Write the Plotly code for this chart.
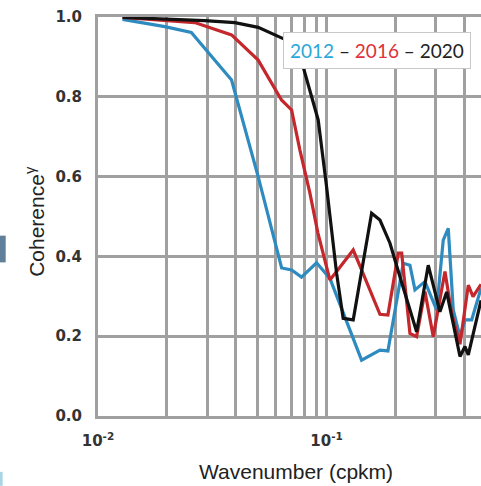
import plotly.graph_objects as go

# Wavenumber (cpkm) and coherence for each year
k_2012 = [0.0128, 0.0196, 0.0256, 0.0384, 0.0502, 0.0636, 0.0703, 0.0777, 0.0904, 0.1034,
          0.1423, 0.1712, 0.1855, 0.2165, 0.2316, 0.2436, 0.2694, 0.3030, 0.3239, 0.3407,
          0.3583, 0.3834, 0.4032, 0.4314, 0.474]
c_2012 = [0.994, 0.976, 0.961, 0.842, 0.600, 0.371, 0.366, 0.348, 0.384, 0.345,
          0.140, 0.165, 0.163, 0.383, 0.378, 0.316, 0.337, 0.266, 0.441, 0.470,
          0.266, 0.199, 0.241, 0.241, 0.320]

k_2016 = [0.0128, 0.0199, 0.0265, 0.0384, 0.0502, 0.0635, 0.0703, 0.0764, 0.0845, 0.0916,
          0.1034, 0.1106, 0.1308, 0.1423, 0.1712, 0.1855, 0.2059, 0.2131, 0.2316, 0.2477,
          0.2694, 0.2929, 0.3296, 0.3526, 0.3834, 0.4169, 0.4371, 0.474]
c_2016 = [0.999, 0.991, 0.986, 0.955, 0.892, 0.792, 0.767, 0.667, 0.559, 0.459,
          0.341, 0.362, 0.416, 0.366, 0.255, 0.253, 0.408, 0.408, 0.207, 0.199,
          0.312, 0.199, 0.362, 0.257, 0.180, 0.328, 0.299, 0.330]

k_2020 = [0.0128, 0.0293, 0.0397, 0.0502, 0.0668, 0.0790, 0.0919, 0.1000, 0.1106, 0.1182,
          0.1308, 0.1574, 0.1712, 0.1894, 0.2094, 0.2477, 0.2785, 0.3133, 0.3352, 0.3834,
          0.4032, 0.4169, 0.474]
c_2020 = [0.999, 0.991, 0.986, 0.974, 0.942, 0.875, 0.742, 0.575, 0.358, 0.245,
          0.241, 0.508, 0.491, 0.433, 0.349, 0.211, 0.378, 0.261, 0.311, 0.149,
          0.174, 0.153, 0.290]

x_grid_vals = [0.01, 0.02, 0.03, 0.04, 0.05, 0.06, 0.07, 0.08, 0.09, 0.1, 0.2, 0.3, 0.4]
x_tick_text = ["<b>10<sup>-2</sup></b>", "", "", "", "", "", "", "", "",
               "<b>10<sup>-1</sup></b>", "", "", ""]
y_tick_vals = [0.0, 0.2, 0.4, 0.6, 0.8, 1.0]
y_tick_text = ["0.0", "0.2", "0.4", "0.6", "0.8", "1.0"]

GRID = "#a0a0a0"

fig = go.Figure()
fig.add_trace(go.Scatter(x=k_2012, y=c_2012, mode="lines",
                         line=dict(color="#2e8bc0", width=3.2), name="2012"))
fig.add_trace(go.Scatter(x=k_2016, y=c_2016, mode="lines",
                         line=dict(color="#c4272c", width=3.2), name="2016"))
fig.add_trace(go.Scatter(x=k_2020, y=c_2020, mode="lines",
                         line=dict(color="#111111", width=3.2), name="2020"))

fig.update_layout(
    width=481, height=486,
    margin=dict(l=98, r=0, t=17, b=70),
    paper_bgcolor="white", plot_bgcolor="white",
    showlegend=False,
    xaxis=dict(type="log", range=[-2, -0.3244],
               tickvals=x_grid_vals, ticktext=x_tick_text,
               showgrid=True, gridcolor=GRID, gridwidth=2.6,
               showline=True, linecolor=GRID, linewidth=3, mirror=True,
               ticks="", ticklabelstandoff=9,
               tickfont=dict(family="DejaVu Sans", size=15, color="#333333"),
               zeroline=False),
    yaxis=dict(range=[0, 1], tickvals=y_tick_vals, ticktext=y_tick_text,
               showgrid=True, gridcolor=GRID, gridwidth=2.6,
               showline=True, linecolor=GRID, linewidth=3,
               ticks="", ticklabelstandoff=10,
               tickfont=dict(family="DejaVu Sans", size=15, color="#333333", weight="bold"),
               zeroline=False),
    annotations=[
        dict(text="Wavenumber (cpkm)", xref="paper", yref="paper",
             x=0.518, y=-0.138, xanchor="center", yanchor="middle", showarrow=False,
             font=dict(family="Liberation Sans", size=21, color="#222222")),
        dict(text="Coherence<sup>γ</sup>", xref="paper", yref="paper",
             x=-0.163, y=0.488, xanchor="center", yanchor="middle", showarrow=False,
             textangle=-90,
             font=dict(family="Liberation Sans", size=21, color="#222222")),
        dict(text="<span style='color:#2aa6d8'>2012</span> – "
                  "<span style='color:#e0303a'>2016</span> – "
                  "<span style='color:#222222'>2020</span>",
             xref="paper", yref="paper", x=0.728, y=0.917,
             xanchor="center", yanchor="middle", showarrow=False,
             bgcolor="white", bordercolor="#c8c8c8", borderwidth=1, borderpad=6,
             font=dict(family="Lato", size=19, color="#222222")),
    ],
    shapes=[
        dict(type="rect", xref="paper", yref="paper",
             x0=-0.257, x1=-0.241, y0=0.385, y1=0.452,
             fillcolor="#5f7f9a", line=dict(width=0)),
        dict(type="rect", xref="paper", yref="paper",
             x0=-0.257, x1=-0.249, y0=-0.175, y1=-0.14,
             fillcolor="#a9d4e6", line=dict(width=0)),
    ],
)

fig.write_html("out.html", config={"displayModeBar": False},
               post_script="document.body.style.margin='0';")
